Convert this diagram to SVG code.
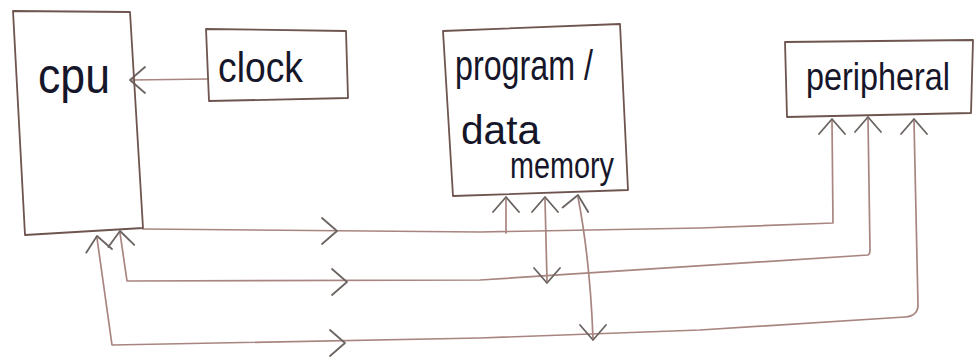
<svg xmlns="http://www.w3.org/2000/svg" xmlns:xlink="http://www.w3.org/1999/xlink" width="977" height="362" viewBox="0 0 977 362">
  <style>
    .box { fill: none; stroke: #6e5550; stroke-width: 1.8; stroke-linejoin: round; }
    .wire { fill: none; stroke: #a88580; stroke-width: 1.7; stroke-linejoin: round; stroke-linecap: round; }
    .head { fill: none; stroke: #6b6460; stroke-width: 1.8; stroke-linecap: round; stroke-linejoin: round; }
    .label { font-family: "Liberation Sans", "DejaVu Sans", sans-serif; fill: #16162a; }
  </style>
  <defs>
    <!-- open chevron, tip at origin, pointing right -->
    <path id="chev" class="head" d="M-15,-13 L0,0 L-15,13"/>
  </defs>

  <rect width="977" height="362" fill="#ffffff"/>

  <!-- connectors -->
  <g id="connectors">
    <!-- clock to cpu -->
    <path class="wire" d="M208,79 L132,80"/>
    <use xlink:href="#chev" transform="translate(130,80) rotate(180)"/>

    <!-- bus 1: cpu to peripheral -->
    <path class="wire" d="M143,229 L480,232 L700,228 L833,223 L832,121"/>
    <use xlink:href="#chev" transform="translate(337,231)"/>
    <use xlink:href="#chev" transform="translate(832,119) rotate(-90)"/>

    <!-- bus 2 -->
    <path class="wire" d="M120,233 L127,281 L480,280 L868,255 Q870,254 870,250 L868,119"/>
    <use xlink:href="#chev" transform="translate(120,231) rotate(-95)"/>
    <use xlink:href="#chev" transform="translate(347,282)"/>
    <use xlink:href="#chev" transform="translate(868,117) rotate(-90)"/>

    <!-- bus 3 -->
    <path class="wire" d="M97,238 L112,345 L480,338 L700,330 L905,317 Q918,316 918,305 L914,121"/>
    <use xlink:href="#chev" transform="translate(97,236) rotate(-98)"/>
    <use xlink:href="#chev" transform="translate(345,343)"/>
    <use xlink:href="#chev" transform="translate(914,119) rotate(-90)"/>

    <!-- memory taps -->
    <path class="wire" d="M506,199 L506,233"/>
    <use xlink:href="#chev" transform="translate(506,197) rotate(-90)"/>

    <path class="wire" d="M545,199 L547,281"/>
    <use xlink:href="#chev" transform="translate(545,197) rotate(-90)"/>
    <use xlink:href="#chev" transform="translate(547,283) rotate(90)"/>

    <path class="wire" d="M578,197 Q590,260 593,338"/>
    <use xlink:href="#chev" transform="translate(578,195) rotate(-80)"/>
    <use xlink:href="#chev" transform="translate(593,340) rotate(90)"/>
  </g>

  <!-- cpu -->
  <g id="cpu">
    <path class="box" d="M13,11 L130,12 L143,228 L25,235 Z"/>
    <text class="label" x="38" y="93" font-size="50" textLength="72" lengthAdjust="spacingAndGlyphs">cpu</text>
  </g>

  <!-- clock -->
  <g id="clock">
    <path class="box" d="M206,29 L346,31 L348,98 L209,101 Z"/>
    <text class="label" x="218" y="82" font-size="43" textLength="85" lengthAdjust="spacingAndGlyphs">clock</text>
  </g>

  <!-- program / data memory -->
  <g id="memory">
    <path class="box" d="M443,31 L620,24 L628,190 L453,196 Z"/>
    <text class="label" x="455" y="80" font-size="42" textLength="138" lengthAdjust="spacingAndGlyphs">program /</text>
    <text class="label" x="461" y="144" font-size="40" textLength="79" lengthAdjust="spacingAndGlyphs">data</text>
    <text class="label" x="510" y="178" font-size="36" textLength="104" lengthAdjust="spacingAndGlyphs">memory</text>
  </g>

  <!-- peripheral -->
  <g id="peripheral">
    <path class="box" d="M785,42 L973,40 L971,113 L787,117 Z"/>
    <text class="label" x="806" y="90" font-size="39" textLength="144" lengthAdjust="spacingAndGlyphs">peripheral</text>
  </g>
</svg>
